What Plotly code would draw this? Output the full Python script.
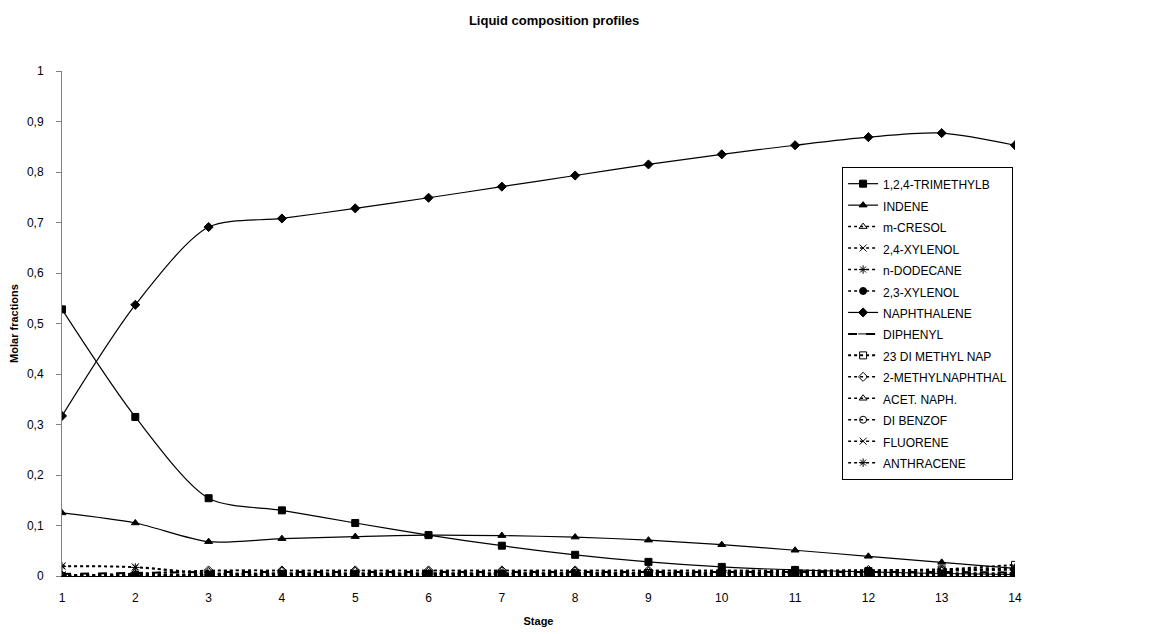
import plotly.graph_objects as go

stages = list(range(1, 15))

names = ["1,2,4-TRIMETHYLB", "INDENE", "m-CRESOL", "2,4-XYLENOL", "n-DODECANE",
         "2,3-XYLENOL", "NAPHTHALENE", "DIPHENYL", "23 DI METHYL NAP",
         "2-METHYLNAPHTHAL", "ACET. NAPH.", "DI BENZOF", "FLUORENE", "ANTHRACENE"]

trimethylb = [0.528, 0.315, 0.154, 0.130, 0.105, 0.081, 0.060, 0.042, 0.028, 0.018, 0.012, 0.008, 0.005, 0.003]
indene = [0.125, 0.105, 0.068, 0.074, 0.078, 0.081, 0.080, 0.077, 0.071, 0.062, 0.051, 0.039, 0.027, 0.015]
m_cresol = [0.001, 0.001, 0.001, 0.001, 0.001, 0.001, 0.001, 0.001, 0.001, 0.001, 0.001, 0.001, 0.001, 0.001]
xylenol_24 = [0.002, 0.003, 0.004, 0.004, 0.004, 0.004, 0.004, 0.004, 0.004, 0.004, 0.004, 0.004, 0.004, 0.003]
dodecane = [0.000, 0.000, 0.000, 0.000, 0.000, 0.000, 0.000, 0.000, 0.000, 0.000, 0.000, 0.000, 0.000, 0.000]
xylenol_23 = [0.001, 0.002, 0.002, 0.002, 0.002, 0.002, 0.002, 0.002, 0.002, 0.002, 0.002, 0.002, 0.002, 0.002]
naphthalene = [0.317, 0.537, 0.691, 0.708, 0.728, 0.749, 0.771, 0.793, 0.815, 0.835, 0.853, 0.869, 0.877, 0.853]
diphenyl = [0.004, 0.006, 0.008, 0.008, 0.008, 0.008, 0.008, 0.008, 0.008, 0.008, 0.008, 0.008, 0.008, 0.007]
dimethylnap_23 = [0.000, 0.001, 0.002, 0.003, 0.003, 0.004, 0.004, 0.005, 0.006, 0.007, 0.008, 0.010, 0.013, 0.022]
methylnaphthal_2 = [0.001, 0.005, 0.011, 0.011, 0.011, 0.011, 0.011, 0.011, 0.011, 0.011, 0.011, 0.012, 0.013, 0.015]
acet_naph = [0.001, 0.004, 0.010, 0.011, 0.011, 0.011, 0.011, 0.011, 0.011, 0.011, 0.011, 0.011, 0.012, 0.013]
dibenzof = [0.000, 0.001, 0.003, 0.004, 0.004, 0.005, 0.005, 0.006, 0.006, 0.007, 0.007, 0.009, 0.010, 0.012]
fluorene = [0.020, 0.018, 0.006, 0.006, 0.006, 0.006, 0.006, 0.006, 0.006, 0.006, 0.006, 0.006, 0.006, 0.006]
anthracene = [0.019, 0.017, 0.004, 0.004, 0.004, 0.004, 0.004, 0.004, 0.004, 0.004, 0.004, 0.004, 0.004, 0.004]

series = [trimethylb, indene, m_cresol, xylenol_24, dodecane, xylenol_23, naphthalene,
          diphenyl, dimethylnap_23, methylnaphthal_2, acet_naph, dibenzof, fluorene, anthracene]

symbols = ["square", "triangle-up", "triangle-up-open", "x-thin-open", "asterisk-open",
           "circle", "diamond", "line-ew-open", "square-open", "diamond-open",
           "triangle-up-open", "circle-open", "x-thin-open", "asterisk-open"]
dashes = ["solid", "solid", "dot", "dot", "dot", "dot", "solid", "dash", "dot",
          "dot", "dot", "dot", "dot", "dot"]
widths = [1.2, 1.2, 1.5, 1.5, 1.5, 1.5, 1.2, 2, 2, 1.5, 1.5, 1.5, 1.5, 1.5]

fig = go.Figure()
for name, ys, sym, dsh, w in zip(names, series, symbols, dashes, widths):
    fig.add_trace(go.Scatter(
        x=stages, y=ys, name='<span style="font-size:12px">' + name + '</span>',
        mode="lines+markers",
        line=dict(color="black", width=w, dash=dsh, shape="spline", smoothing=0.8),
        marker=dict(symbol=sym, size=7, color="black",
                    line=dict(color="black", width=1)),
    ))

fig.update_layout(
    width=1174, height=634,
    margin=dict(l=62, r=159, t=71, b=58),
    paper_bgcolor="white", plot_bgcolor="white",
    separators=", ",
    font=dict(family="Liberation Sans, Arial, sans-serif", size=12, color="black"),
    title=dict(text="<b>Liquid composition profiles</b>", x=0.472, xanchor="center",
               y=0.968, yanchor="middle", font=dict(size=13)),
    showlegend=True,
    legend=dict(x=0.998, xanchor="right", y=0.81, yanchor="top",
                bordercolor="black", borderwidth=1, bgcolor="white",
                font=dict(size=14.2), tracegroupgap=0, itemwidth=30),
    xaxis=dict(range=[1, 14], tickmode="array", tickvals=stages, automargin=False,
               showgrid=False, zeroline=False, showline=True, linecolor="black",
               linewidth=1, ticks="", tickfont=dict(size=12), ticklabelstandoff=11,
               title=dict(text="<b>Stage</b>", font=dict(size=11), standoff=12)),
    yaxis=dict(range=[0, 1], dtick=0.1, tick0=0, showgrid=False, zeroline=False,
               showline=True, linecolor="#808080", linewidth=1, ticks="outside",
               ticklen=5, tickcolor="#808080", tickfont=dict(size=12), automargin=False,
               ticklabelstandoff=10,
               title=dict(text="<b>Molar fractions</b>", font=dict(size=11), standoff=6)),
)

fig.write_html("out.html")
